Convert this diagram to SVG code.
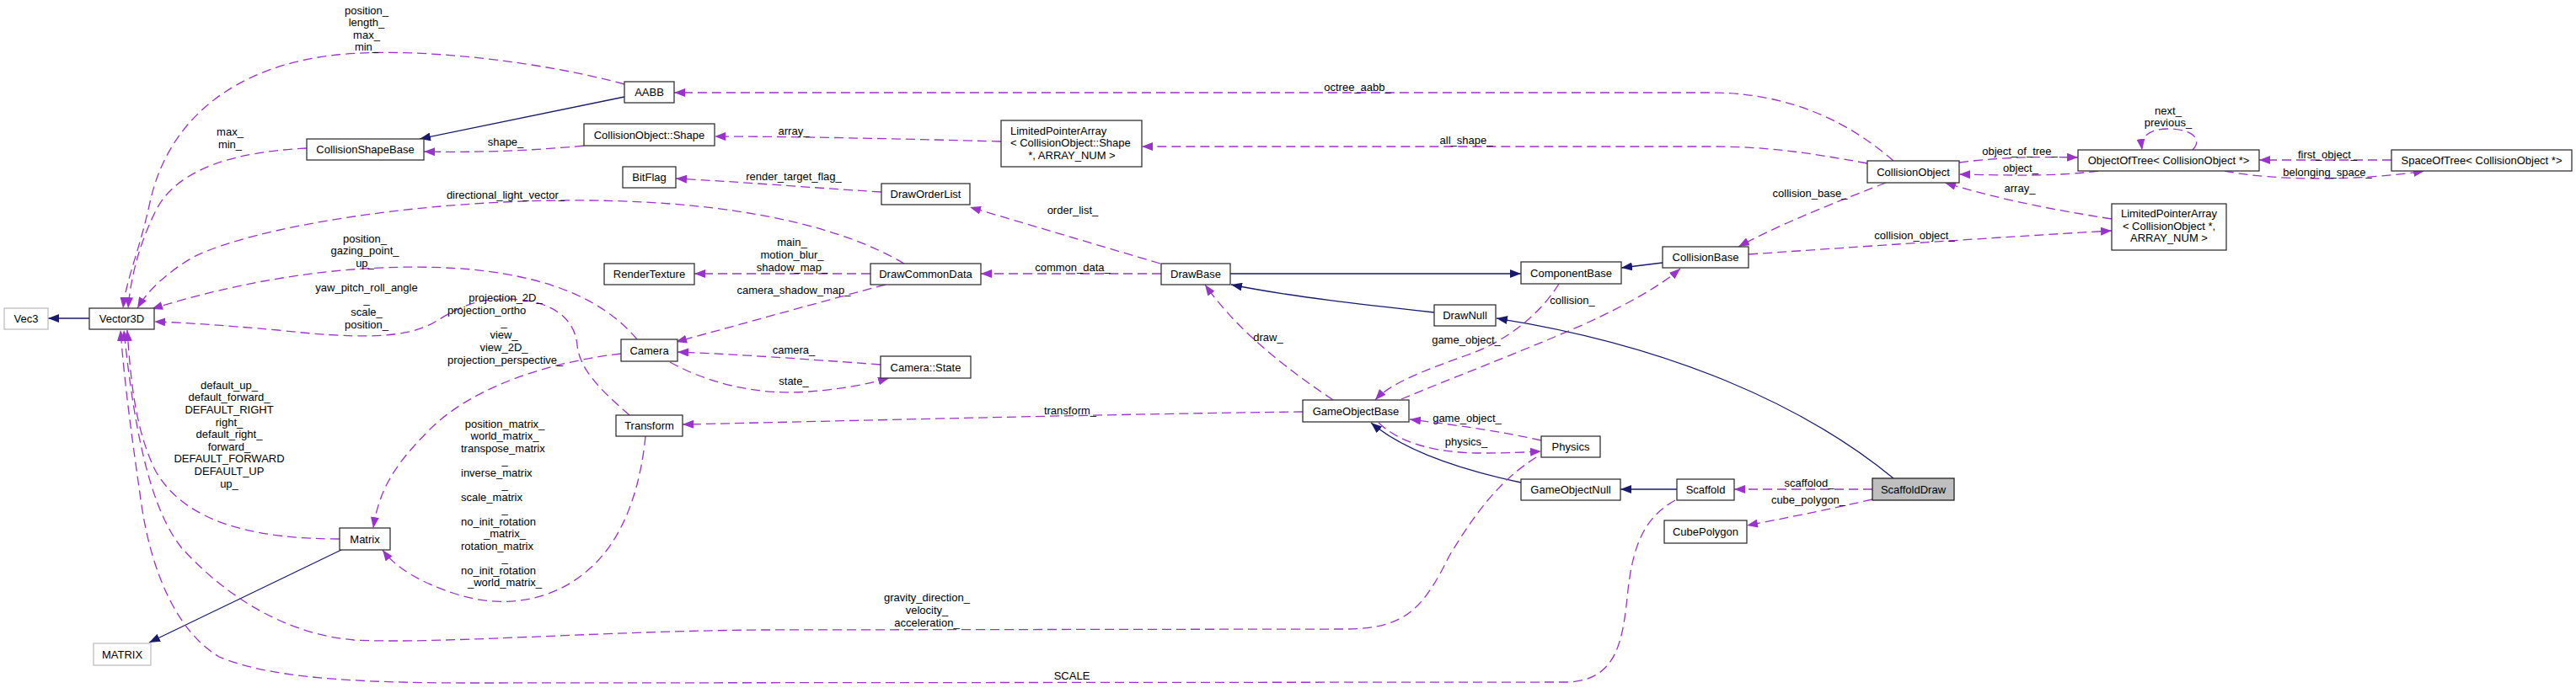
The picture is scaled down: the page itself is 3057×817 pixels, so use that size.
<svg xmlns="http://www.w3.org/2000/svg" width="3057" height="817" viewBox="0 0 3057 817">
<style>
text{font-family:"Liberation Sans",Arial,sans-serif;font-size:13px;fill:#000}
.n rect{fill:#fff;stroke:#333;stroke-width:1.3}
.n.g rect{stroke:#bfbfbf}
.n.cur rect{fill:#bfbfbf;stroke:#222}
.n text{text-anchor:middle}
.inh{fill:none;stroke:#191970;stroke-width:1.3;marker-end:url(#an)}
.use{fill:none;stroke:#9a32cd;stroke-width:1.3;stroke-dasharray:11,6;marker-end:url(#ap)}
.lbl text{text-anchor:middle}
.lbl text.l{text-anchor:start}
</style>
<defs>
<marker id="an" markerUnits="userSpaceOnUse" markerWidth="13" markerHeight="10" refX="13" refY="5" orient="auto"><path d="M0,0 L13,5 L0,10 z" fill="#191970" stroke="none"/></marker>
<marker id="ap" markerUnits="userSpaceOnUse" markerWidth="13" markerHeight="10" refX="13" refY="5" orient="auto"><path d="M0,0 L13,5 L0,10 z" fill="#9a32cd" stroke="none"/></marker>
</defs>
<rect width="3057" height="817" fill="#fff"/>
<g id="edges">
<path class="inh" d="M106,378 L57,378"/>
<path class="inh" d="M405,653 L177,763"/>
<path class="inh" d="M741,115 L498,165"/>
<path class="inh" d="M1460,325 L1805,325"/>
<path class="inh" d="M1973,312 L1924,318"/>
<path class="inh" d="M1702,371 C1620,362 1530,352 1461,338"/>
<path class="inh" d="M2247,568 C2140,480 1980,410 1776,378"/>
<path class="inh" d="M1805,573 C1720,555 1660,530 1627,502"/>
<path class="inh" d="M1990,581 L1923,581"/>
<path class="use" d="M741,100 C650,75 500,55 400,65 C280,78 200,140 178,240 C165,300 150,330 146,366"/>
<path class="use" d="M364,176 C280,180 210,200 185,250 C165,290 155,330 152,366"/>
<path class="use" d="M1073,313 C1000,270 880,240 700,238 C500,236 300,270 230,305 C200,322 175,345 163,366"/>
<path class="use" d="M756,403 C720,360 660,330 560,320 C420,308 280,335 180,367"/>
<path class="use" d="M747,493 C715,465 688,440 685,410 C682,375 650,355 600,355 C560,355 540,368 515,383 C480,403 420,402 330,392 C260,386 220,383 183,382"/>
<path class="use" d="M693,173 C620,180 560,181 503,180"/>
<path class="use" d="M1188,168 C1000,163 900,162 848,162"/>
<path class="use" d="M2247,191 C2200,150 2130,110 2030,110 L800,110"/>
<path class="use" d="M2216,194 C2150,182 2100,174 2030,174 L1355,174"/>
<path class="use" d="M2238,217 C2200,232 2120,262 2063,293"/>
<path class="use" d="M2075,302 C2250,290 2400,280 2506,274"/>
<path class="use" d="M2506,260 C2430,248 2370,236 2308,217"/>
<path class="use" d="M2325,193 C2380,186 2420,186 2466,187"/>
<path class="use" d="M2490,203 C2440,210 2380,208 2325,207"/>
<path class="use" d="M2602,178 C2615,165 2600,153 2573,153 C2550,153 2540,162 2542,178"/>
<path class="use" d="M2838,190 L2681,190"/>
<path class="use" d="M2640,203 C2700,215 2800,215 2877,203"/>
<path class="use" d="M1046,228 C950,222 880,216 802,212"/>
<path class="use" d="M1377,313 L1151,246"/>
<path class="use" d="M1378,325 L1164,325"/>
<path class="use" d="M1033,325 L824,325"/>
<path class="use" d="M1051,338 C950,365 880,385 802,406"/>
<path class="use" d="M1045,433 C950,426 880,421 804,418"/>
<path class="use" d="M795,430 C840,455 900,470 960,465 C1000,462 1030,456 1055,449"/>
<path class="use" d="M737,420 C650,430 560,460 510,510 C470,550 450,580 443,627"/>
<path class="use" d="M766,518 C760,580 740,640 700,675 C660,712 600,725 540,705 C500,692 470,675 454,653"/>
<path class="use" d="M403,640 C300,640 220,620 185,560 C160,510 155,450 151,392"/>
<path class="use" d="M1823,543 C1780,570 1750,610 1720,660 C1690,720 1670,746 1600,747 L900,748 C700,750 520,765 420,760 C330,752 260,700 215,650 C180,605 160,520 147,392"/>
<path class="use" d="M1988,594 C1950,615 1938,650 1932,700 C1926,760 1920,808 1860,810 L560,811 C420,811 320,805 260,780 C210,750 180,680 168,600 C158,530 148,460 143,392"/>
<path class="use" d="M1546,489 C1300,492 1000,500 810,504"/>
<path class="use" d="M1582,475 C1530,440 1470,395 1430,338"/>
<path class="use" d="M1850,337 C1830,370 1790,405 1740,422 C1690,440 1650,455 1632,475"/>
<path class="use" d="M1663,474 C1720,450 1800,420 1880,385 C1930,362 1970,340 1994,319"/>
<path class="use" d="M1829,523 C1780,512 1730,505 1673,498"/>
<path class="use" d="M1636,502 C1660,525 1700,538 1760,538 C1790,538 1810,537 1829,536"/>
<path class="use" d="M2222,581 L2058,581"/>
<path class="use" d="M2222,593 C2170,605 2120,615 2073,624"/>
</g>
<g id="labels" class="lbl">
<text x="435" y="17">position_</text><text x="435" y="31">length_</text><text x="435" y="46">max_</text><text x="435" y="60">min_</text>
<text x="273" y="161">max_</text><text x="273" y="176">min_</text>
<text x="600" y="173">shape_</text>
<text x="942" y="160">array_</text>
<text x="942" y="214">render_target_flag_</text>
<text x="600" y="236">directional_light_vector_</text>
<text x="433" y="288">position_</text><text x="433" y="302">gazing_point_</text><text x="433" y="317">up_</text>
<text x="435" y="346">yaw_pitch_roll_angle</text><text x="435" y="360">_</text><text x="435" y="375">scale_</text><text x="435" y="390">position_</text>
<text x="940" y="292">main_</text><text x="940" y="307">motion_blur_</text><text x="940" y="322">shadow_map_</text>
<text x="942" y="349">camera_shadow_map_</text>
<text x="600" y="358">projection_2D_</text><text class="l" x="531" y="373">projection_ortho</text><text x="598" y="387">_</text><text x="598" y="402">view_</text><text x="598" y="417">view_2D_</text><text class="l" x="531" y="432">projection_perspective_</text>
<text x="942" y="420">camera_</text>
<text x="942" y="457">state_</text>
<text x="272" y="462">default_up_</text><text x="272" y="476">default_forward_</text><text x="272" y="491">DEFAULT_RIGHT</text><text x="272" y="506">right_</text><text x="272" y="520">default_right_</text><text x="272" y="535">forward_</text><text x="272" y="549">DEFAULT_FORWARD</text><text x="272" y="564">DEFAULT_UP</text><text x="272" y="579">up_</text>
<text x="599" y="508">position_matrix_</text><text x="599" y="522">world_matrix_</text><text class="l" x="547" y="537">transpose_matrix</text><text x="599" y="551">_</text><text class="l" x="547" y="566">inverse_matrix</text><text x="599" y="580">_</text><text class="l" x="547" y="595">scale_matrix</text><text x="599" y="609">_</text><text class="l" x="547" y="624">no_init_rotation</text><text x="599" y="638">_matrix_</text><text class="l" x="547" y="653">rotation_matrix</text><text x="599" y="667">_</text><text class="l" x="547" y="682">no_init_rotation</text><text x="599" y="696">_world_matrix_</text>
<text x="1611" y="108">octree_aabb_</text>
<text x="1740" y="171">all_shape_</text>
<text x="1273" y="254">order_list_</text>
<text x="1273" y="322">common_data_</text>
<text x="1505" y="405">draw_</text>
<text x="1270" y="492">transform_</text>
<text x="1866" y="361">collision_</text>
<text x="1740" y="408">game_object_</text>
<text x="1741" y="501">game_object_</text>
<text x="1740" y="529">physics_</text>
<text x="2148" y="234">collision_base_</text>
<text x="2397" y="184">object_of_tree_</text>
<text x="2398" y="204">object_</text>
<text x="2397" y="228">array_</text>
<text x="2272" y="284">collision_object_</text>
<text x="2573" y="136">next_</text><text x="2573" y="150">previous_</text>
<text x="2762" y="188">first_object_</text>
<text x="2762" y="209">belonging_space_</text>
<text x="2147" y="578">scaffolod_</text>
<text x="2146" y="598">cube_polygon_</text>
<text x="1100" y="714">gravity_direction_</text><text x="1100" y="729">velocity_</text><text x="1100" y="744">acceleration_</text>
<text x="1272" y="807">SCALE</text>
</g>
<g id="n-vec3" class="n g"><rect x="5" y="366" width="52" height="25"/><text x="31" y="383">Vec3</text></g>
<g id="n-vector3d" class="n"><rect x="106" y="366" width="77" height="25"/><text x="144.5" y="383">Vector3D</text></g>
<g id="n-MATRIX" class="n g"><rect x="111" y="764" width="68" height="26"/><text x="145" y="781.5">MATRIX</text></g>
<g id="n-matrix" class="n"><rect x="403" y="627" width="60" height="26"/><text x="433" y="644.5">Matrix</text></g>
<g id="n-collisionshapebase" class="n"><rect x="364" y="165" width="139" height="25"/><text x="433.5" y="182">CollisionShapeBase</text></g>
<g id="n-aabb" class="n"><rect x="741" y="97" width="59" height="25"/><text x="770.5" y="114">AABB</text></g>
<g id="n-shape" class="n"><rect x="693" y="147" width="155" height="26"/><text x="770.5" y="164.5">CollisionObject::Shape</text></g>
<g id="n-bitflag" class="n"><rect x="739" y="198" width="63" height="25"/><text x="770.5" y="215">BitFlag</text></g>
<g id="n-rendertexture" class="n"><rect x="717" y="313" width="107" height="25"/><text x="770.5" y="330">RenderTexture</text></g>
<g id="n-camera" class="n"><rect x="737" y="403" width="67" height="26"/><text x="770.5" y="420.5">Camera</text></g>
<g id="n-transform" class="n"><rect x="731" y="493" width="79" height="25"/><text x="770.5" y="510">Transform</text></g>
<g id="n-lpa-shape" class="n"><rect x="1188" y="143" width="167" height="55"/><text x="1199" y="160" style="text-anchor:start">LimitedPointerArray</text><text x="1199" y="174" style="text-anchor:start">&lt; CollisionObject::Shape</text><text x="1272" y="189">*, ARRAY_NUM &gt;</text></g>
<g id="n-draworderlist" class="n"><rect x="1046" y="218" width="105" height="25"/><text x="1098.5" y="235">DrawOrderList</text></g>
<g id="n-drawcommondata" class="n"><rect x="1033" y="313" width="131" height="25"/><text x="1098.5" y="330">DrawCommonData</text></g>
<g id="n-camerastate" class="n"><rect x="1045" y="423" width="107" height="26"/><text x="1098.5" y="440.5">Camera::State</text></g>
<g id="n-drawbase" class="n"><rect x="1378" y="313" width="82" height="25"/><text x="1419" y="330">DrawBase</text></g>
<g id="n-gameobjectbase" class="n"><rect x="1546" y="475" width="126" height="26"/><text x="1609" y="492.5">GameObjectBase</text></g>
<g id="n-componentbase" class="n"><rect x="1805" y="311" width="119" height="26"/><text x="1864.5" y="328.5">ComponentBase</text></g>
<g id="n-drawnull" class="n"><rect x="1702" y="362" width="73" height="25"/><text x="1738.5" y="379">DrawNull</text></g>
<g id="n-physics" class="n"><rect x="1829" y="518" width="70" height="25"/><text x="1864" y="535">Physics</text></g>
<g id="n-gameobjectnull" class="n"><rect x="1805" y="569" width="118" height="25"/><text x="1864" y="586">GameObjectNull</text></g>
<g id="n-collisionbase" class="n"><rect x="1973" y="293" width="102" height="25"/><text x="2024" y="310">CollisionBase</text></g>
<g id="n-scaffold" class="n"><rect x="1990" y="569" width="68" height="25"/><text x="2024" y="586">Scaffold</text></g>
<g id="n-cubepolygon" class="n"><rect x="1975" y="618" width="98" height="27"/><text x="2024" y="636">CubePolygon</text></g>
<g id="n-collisionobject" class="n"><rect x="2216" y="191" width="109" height="26"/><text x="2270.5" y="208.5">CollisionObject</text></g>
<g id="n-scaffolddraw" class="n cur"><rect x="2222" y="568" width="97" height="26"/><text x="2270.5" y="585.5">ScaffoldDraw</text></g>
<g id="n-objectoftree" class="n"><rect x="2466" y="178" width="215" height="25"/><text x="2573.5" y="195">ObjectOfTree&lt; CollisionObject *&gt;</text></g>
<g id="n-lpa-co" class="n"><rect x="2506" y="242" width="136" height="55"/><text x="2574" y="258">LimitedPointerArray</text><text x="2574" y="273">&lt; CollisionObject *,</text><text x="2574" y="287">ARRAY_NUM &gt;</text></g>
<g id="n-spaceoftree" class="n"><rect x="2838" y="178" width="214" height="25"/><text x="2945" y="195">SpaceOfTree&lt; CollisionObject *&gt;</text></g>
</svg>
